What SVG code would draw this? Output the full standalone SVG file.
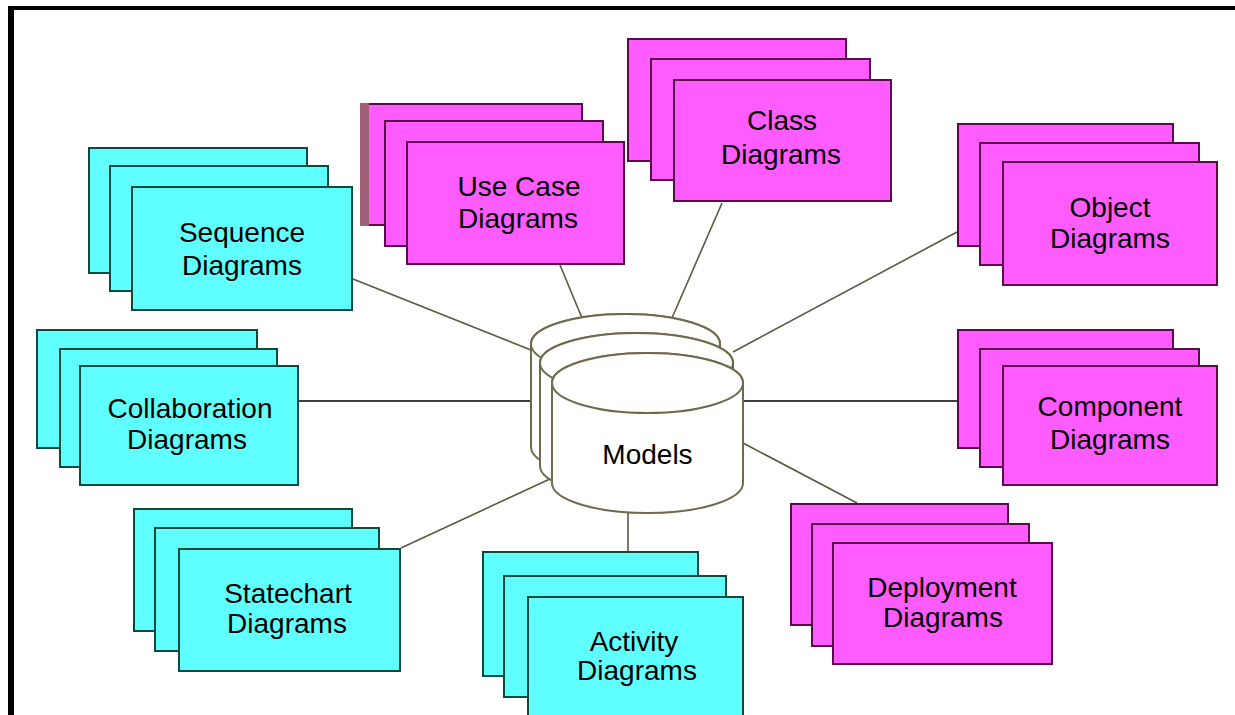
<svg xmlns="http://www.w3.org/2000/svg" width="1235" height="715" viewBox="0 0 1235 715">
  <style>
    .cy { fill: #60ffff; stroke: #0c4a40; stroke-width: 2; }
    .mg { fill: #ff5cff; stroke: #5a0a48; stroke-width: 2; }
    .lbl { font-family: "Liberation Sans", Arial, sans-serif; font-size: 28px; fill: #000; text-anchor: middle; }
    .link { stroke: #5a5840; stroke-width: 1.6; fill: none; }
    .hlink { stroke: #404040; stroke-width: 2; fill: none; }
    .drum { fill: #fff; stroke: #6e6a4c; stroke-width: 2; }
  </style>

  <rect x="0" y="0" width="1235" height="715" fill="#fff"/>
  <!-- frame edges -->
  <rect x="8" y="6" width="1227" height="4" fill="#000"/>
  <rect x="8" y="6" width="6" height="709" fill="#000"/>

  <g id="connectors">
    <line class="link" x1="353" y1="279" x2="531" y2="350"/>
    <line class="link" x1="560" y1="265" x2="582" y2="318"/>
    <line class="link" x1="722" y1="203" x2="672" y2="318"/>
    <line class="link" x1="957" y1="232" x2="733" y2="352"/>
    <line class="hlink" x1="299" y1="401" x2="531" y2="401"/>
    <line class="hlink" x1="743" y1="401" x2="957" y2="401"/>
    <line class="link" x1="743" y1="443" x2="857" y2="503"/>
    <line class="link" x1="401" y1="548" x2="552" y2="478"/>
    <line class="link" x1="628" y1="513" x2="628" y2="551"/>
  </g>

  <g id="models">
    <!-- back drum -->
    <path class="drum" d="M531,344 V447 A94.5,30 0 0 0 720,447 V344 A94.5,30 0 0 0 531,344 Z"/>
    <ellipse class="drum" cx="625.5" cy="344" rx="94.5" ry="30"/>
    <!-- middle drum -->
    <path class="drum" d="M540,363 V466 A96.5,30 0 0 0 733,466 V363 A96.5,30 0 0 0 540,363 Z"/>
    <ellipse class="drum" cx="636.5" cy="363" rx="96.5" ry="30"/>
    <!-- front drum -->
    <path class="drum" d="M552,383 V483 A95.5,30 0 0 0 743,483 V383 A95.5,30 0 0 0 552,383 Z"/>
    <ellipse class="drum" cx="647.5" cy="383" rx="95.5" ry="30"/>
    <text class="lbl" x="647.5" y="464">Models</text>
  </g>

  <g id="sequence">
    <rect class="cy" x="89" y="148" width="218" height="125"/>
    <rect class="cy" x="110" y="166" width="218" height="125"/>
    <rect class="cy" x="132" y="187" width="220" height="123"/>
    <text class="lbl" x="242" y="242">Sequence</text>
    <text class="lbl" x="242" y="275">Diagrams</text>
  </g>

  <g id="usecase">
    <rect class="mg" x="361" y="104" width="221" height="121"/>
    <rect x="360" y="103" width="9" height="123" fill="#a06078"/>
    <rect class="mg" x="385" y="121" width="218" height="125"/>
    <rect class="mg" x="407" y="142" width="217" height="122"/>
    <text class="lbl" x="519" y="196">Use Case</text>
    <text class="lbl" x="518" y="228">Diagrams</text>
  </g>

  <g id="class">
    <rect class="mg" x="628" y="39" width="218" height="122"/>
    <rect class="mg" x="651" y="59" width="219" height="121"/>
    <rect class="mg" x="674" y="80" width="217" height="121"/>
    <text class="lbl" x="782" y="130">Class</text>
    <text class="lbl" x="781" y="164">Diagrams</text>
  </g>

  <g id="object">
    <rect class="mg" x="958" y="124" width="215" height="122"/>
    <rect class="mg" x="980" y="143" width="219" height="122"/>
    <rect class="mg" x="1003" y="162" width="214" height="123"/>
    <text class="lbl" x="1110" y="217">Object</text>
    <text class="lbl" x="1110" y="248">Diagrams</text>
  </g>

  <g id="component">
    <rect class="mg" x="958" y="330" width="215" height="118"/>
    <rect class="mg" x="980" y="349" width="219" height="118"/>
    <rect class="mg" x="1003" y="366" width="214" height="119"/>
    <text class="lbl" x="1110" y="416">Component</text>
    <text class="lbl" x="1110" y="449">Diagrams</text>
  </g>

  <g id="collaboration">
    <rect class="cy" x="37" y="330" width="220" height="118"/>
    <rect class="cy" x="60" y="349" width="217" height="118"/>
    <rect class="cy" x="80" y="366" width="218" height="119"/>
    <text class="lbl" x="190" y="418">Collaboration</text>
    <text class="lbl" x="187" y="449">Diagrams</text>
  </g>

  <g id="statechart">
    <rect class="cy" x="134" y="509" width="218" height="122"/>
    <rect class="cy" x="155" y="528" width="224" height="123"/>
    <rect class="cy" x="179" y="549" width="221" height="122"/>
    <text class="lbl" x="288" y="603">Statechart</text>
    <text class="lbl" x="287" y="633">Diagrams</text>
  </g>

  <g id="activity">
    <rect class="cy" x="483" y="552" width="215" height="124"/>
    <rect class="cy" x="504" y="576" width="222" height="121"/>
    <rect class="cy" x="528" y="597" width="215" height="130"/>
    <text class="lbl" x="634" y="651">Activity</text>
    <text class="lbl" x="637" y="680">Diagrams</text>
  </g>

  <g id="deployment">
    <rect class="mg" x="791" y="504" width="217" height="121"/>
    <rect class="mg" x="812" y="524" width="217" height="122"/>
    <rect class="mg" x="833" y="543" width="219" height="121"/>
    <text class="lbl" x="942" y="597">Deployment</text>
    <text class="lbl" x="943" y="627">Diagrams</text>
  </g>
</svg>
